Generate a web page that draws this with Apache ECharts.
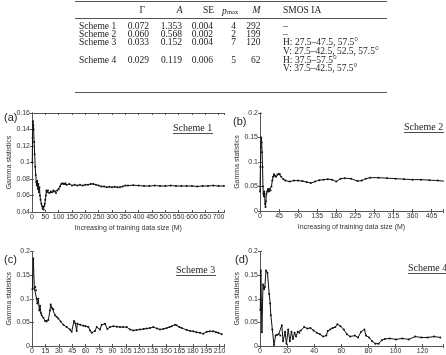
<!DOCTYPE html>
<html><head><meta charset="utf-8">
<script src="https://cdn.jsdelivr.net/npm/echarts@6/dist/echarts.min.js"></script>
<style>html,body{margin:0;padding:0;background:#fff}#c{width:446px;height:355px}</style>
</head><body><div id="c"></div>
<script>
// ---- table data ----
const tableSchemes = ['Scheme 1', 'Scheme 2', 'Scheme 3', 'Scheme 4'];
const tableGamma = ['0.072', '0.060', '0.033', '0.029'];
const tableA = ['1.353', '0.568', '0.152', '0.119'];
const tableSE = ['0.004', '0.002', '0.004', '0.006'];
const tablePmax = ['4', '2', '7', '5'];
const tableM = ['292', '199', '120', '62'];
const tableIA = [['–'], ['–'], ['H: 27.5–47.5, 57.5°', 'V: 27.5–42.5, 52.5, 57.5°'], ['H: 37.5–57.5°', 'V: 37.5–42.5, 57.5°']];

// ---- panel data ----
const panelLetters = ['(a)', '(b)', '(c)', '(d)'];
const panelSchemes = ['Scheme 1', 'Scheme 2', 'Scheme 3', 'Scheme 4'];
const yName = 'Gamma statistics';
const xName = 'Increasing of training data size (M)';

const aX = [1, 2, 3, 4, 5, 6, 8, 10, 12, 14, 16, 18, 20, 22, 24, 26, 28, 30, 32, 35, 38, 40, 42, 44, 46, 48, 50, 52, 54, 56, 60, 65, 70, 75, 80, 85, 90, 95, 100, 105, 110, 115, 120, 125, 130, 140, 150, 160, 170, 180, 190, 200, 210, 220, 230, 240, 250, 260, 270, 280, 290, 300, 310, 320, 330, 340, 350, 360, 380, 400, 420, 440, 460, 480, 500, 520, 540, 560, 580, 600, 620, 640, 660, 680, 700, 720];
const aY = [0.10, 0.13, 0.148, 0.15, 0.145, 0.14, 0.125, 0.11, 0.095, 0.085, 0.076, 0.072, 0.078, 0.068, 0.074, 0.064, 0.07, 0.06, 0.055, 0.05, 0.047, 0.044, 0.046, 0.043, 0.047, 0.05, 0.055, 0.06, 0.066, 0.064, 0.066, 0.063, 0.065, 0.064, 0.066, 0.065, 0.063, 0.066, 0.068, 0.071, 0.074, 0.075, 0.074, 0.075, 0.073, 0.074, 0.072, 0.073, 0.072, 0.073, 0.072, 0.073, 0.073, 0.074, 0.074, 0.073, 0.072, 0.071, 0.071, 0.070, 0.0705, 0.070, 0.0705, 0.070, 0.070, 0.071, 0.072, 0.072, 0.0725, 0.072, 0.0715, 0.0715, 0.072, 0.0715, 0.0715, 0.072, 0.0715, 0.0715, 0.0715, 0.0715, 0.071, 0.0715, 0.0715, 0.072, 0.0715, 0.0715];

const bX = [0, 1, 2, 3, 4, 5, 6, 7, 8, 9, 10, 11, 12, 13, 14, 15, 17, 19, 21, 23, 25, 27, 29, 31, 33, 35, 38, 41, 44, 47, 50, 55, 60, 70, 80, 90, 100, 110, 120, 130, 140, 150, 160, 170, 180, 190, 200, 215, 230, 240, 250, 260, 280, 300, 320, 340, 360, 380, 400, 420, 435];
const bY = [0.04, 0.09, 0.13, 0.15, 0.14, 0.12, 0.09, 0.05, 0.035, 0.03, 0.04, 0.03, 0.015, 0.008, 0.02, 0.035, 0.04, 0.045, 0.04, 0.045, 0.042, 0.05, 0.062, 0.07, 0.075, 0.072, 0.07, 0.074, 0.076, 0.075, 0.07, 0.065, 0.062, 0.06, 0.062, 0.062, 0.061, 0.059, 0.057, 0.06, 0.063, 0.064, 0.065, 0.064, 0.06, 0.066, 0.067, 0.066, 0.061, 0.062, 0.066, 0.068, 0.068, 0.067, 0.066, 0.065, 0.064, 0.064, 0.063, 0.062, 0.061];

const cX = [0.5, 1.5, 2.6, 3.7, 4.5, 5.2, 6, 7.1, 8.2, 9, 10, 10.8, 12.7, 14.6, 16.4, 18.3, 20.1, 20.9, 22.5, 23.9, 25.8, 27.5, 29.5, 32, 35.1, 38.8, 42.5, 44.4, 47, 48.5, 50, 50.8, 54, 57.5, 60, 63.1, 65, 66.8, 70.5, 72.4, 76.1, 78, 81.7, 84.4, 87.3, 91, 95, 98.5, 102, 106, 109.7, 113.4, 117, 120.9, 125, 128.4, 132, 135.8, 140, 143.3, 147, 150.8, 154, 156.4, 160.1, 162, 165, 167.6, 173.2, 177, 180.6, 184, 188.1, 191.8, 195.6, 199, 203, 206, 208.6, 212.4];
const cY = [0.12, 0.185, 0.122, 0.125, 0.118, 0.10, 0.09, 0.10, 0.075, 0.085, 0.07, 0.065, 0.06, 0.053, 0.052, 0.055, 0.075, 0.088, 0.08, 0.078, 0.065, 0.062, 0.058, 0.052, 0.045, 0.04, 0.035, 0.03, 0.053, 0.048, 0.032, 0.047, 0.045, 0.043, 0.042, 0.04, 0.033, 0.028, 0.032, 0.04, 0.035, 0.045, 0.047, 0.036, 0.04, 0.042, 0.041, 0.04, 0.04, 0.04, 0.035, 0.033, 0.034, 0.035, 0.036, 0.037, 0.038, 0.04, 0.037, 0.035, 0.036, 0.038, 0.04, 0.042, 0.045, 0.044, 0.04, 0.038, 0.034, 0.032, 0.031, 0.029, 0.028, 0.026, 0.03, 0.031, 0.031, 0.029, 0.028, 0.025];

const dX = [0.2, 0.6, 1.4, 2.2, 3, 3.6, 4.4, 5.5, 6.8, 7.5, 8, 9.1, 10.3, 11.5, 12.6, 13.8, 15, 16.1, 17, 18.5, 19.5, 20.8, 22, 23.2, 24.3, 25.5, 26.6, 27.8, 29, 30.2, 32.5, 34.9, 37.2, 39.5, 41.9, 44.2, 46.5, 48.9, 50, 51.8, 53.6, 55.5, 57.1, 59.4, 61.8, 64.1, 66.4, 70, 72.3, 74.6, 77, 78.2, 80.5, 82.8, 85.1, 87.5, 89.8, 92.1, 95.6, 100.4, 105, 109.7, 114.4, 119, 123.7, 128.4, 133];
const dY = [0.076, 0.16, 0.029, 0.13, 0.12, 0.125, 0.16, 0.155, 0.11, 0.09, 0.065, 0.035, 0.002, 0.022, 0.024, 0.025, 0.022, 0.044, 0.01, 0.03, 0.005, 0.035, 0.01, 0.03, 0.015, 0.028, 0.02, 0.03, 0.028, 0.033, 0.04, 0.037, 0.038, 0.033, 0.028, 0.025, 0.02, 0.022, 0.032, 0.035, 0.038, 0.04, 0.046, 0.042, 0.035, 0.025, 0.02, 0.022, 0.018, 0.03, 0.035, 0.022, 0.018, 0.01, 0.005, 0.005, 0.012, 0.015, 0.016, 0.014, 0.016, 0.014, 0.02, 0.018, 0.018, 0.02, 0.018];

// axis ranges [xmax, xInterval, ymin, ymax, yInterval]
const axisRanges = [[722, 50, 0.04, 0.16, 0.02], [432, 45, 0, 0.2, 0.05], [215.5, 15, 0, 0.2, 0.05], [135, 20, 0, 0.2, 0.05]];
const seriesX = [aX, bX, cX, dX];
const seriesY = [aY, bY, cY, dY];

// ---- layout ----
const grids = [
  {left: 32, top: 113, width: 192.5, height: 99},
  {left: 260, top: 113, width: 192, height: 98},
  {left: 32, top: 251.5, width: 192.5, height: 99.5},
  {left: 260, top: 251.5, width: 192, height: 99.5}
];
const sans = 'Liberation Sans';
const serif = 'Liberation Serif';
const axisColor = '#555';
const txtColor = '#333';

const xAxes = [], yAxes = [], series = [];
grids.forEach((g, i) => {
  const [xmax, xint, ymin, ymax, yint] = axisRanges[i];
  const common = {gridIndex: i, type: 'value', splitLine: {show: false},
    axisLine: {show: true, lineStyle: {color: axisColor, width: 1}},
    axisTick: {show: true, inside: true, length: 2, lineStyle: {color: axisColor}}};
  xAxes.push(Object.assign({}, common, {position: 'bottom', min: 0, max: xmax, interval: xint,
    axisLabel: {fontSize: 7, fontFamily: sans, color: txtColor, margin: 2,
      formatter: v => (Math.abs(v / xint - Math.round(v / xint)) < 1e-6 ? String(v) : '')},
    name: i < 2 ? xName : '', nameLocation: 'middle', nameGap: 13,
    nameTextStyle: {fontSize: 7, fontFamily: sans, color: txtColor}}));
  xAxes.push(Object.assign({}, common, {position: 'top', min: 0, max: xmax, interval: xint,
    axisLabel: {show: false}}));
  yAxes.push(Object.assign({}, common, {position: 'left', min: ymin, max: ymax, interval: yint,
    axisLabel: {fontSize: 7, fontFamily: sans, color: txtColor, margin: 2},
    name: yName, nameLocation: 'middle', nameGap: 16, nameRotate: 90,
    nameTextStyle: {fontSize: 7, fontFamily: sans, color: txtColor}}));
  yAxes.push(Object.assign({}, common, {position: 'right', min: ymin, max: ymax, interval: yint,
    axisLabel: {show: false}}));
  series.push({type: 'line', xAxisIndex: i * 2, yAxisIndex: i * 2,
    data: seriesX[i].map((x, k) => [x, seriesY[i][k]]),
    showSymbol: true, showAllSymbol: true, symbol: 'circle', symbolSize: 2,
    itemStyle: {color: '#111'}, lineStyle: {color: '#111', width: 1}, animation: false, silent: true});
});

// ---- graphics: table, panel letters, scheme labels ----
const graphics = [];
const tFont = "9.5px '" + serif + "'";
const tFontI = "italic 9.5px '" + serif + "'";
function txt(text, x, y, align, font) {
  graphics.push({type: 'text', x: x, y: y, silent: true,
    style: {text: text, font: font || tFont, fill: '#222', align: align || 'left', verticalAlign: 'middle'}});
}
function hline(x1, x2, y, w) {
  graphics.push({type: 'line', silent: true, shape: {x1: x1, y1: y, x2: x2, y2: y},
    style: {stroke: '#555', lineWidth: w || 1}});
}
hline(75, 387, 1.5);
hline(75, 387, 18.5);
hline(75, 387, 92.5);
// header
const hy = 10.5;
txt('Γ', 145, hy, 'right');
txt('A', 182.5, hy, 'right', tFontI);
txt('SE', 214, hy, 'right');
txt('p', 222, hy + 0.5, 'left', tFontI);
txt('max', 227, hy + 1.5, 'left', "6.5px '" + serif + "'");
txt('M', 260.5, hy, 'right', tFontI);
txt('SMOS IA', 283, hy, 'left');
const rowY = [26, 34.4, 42.8, 60];
const rowY2 = [0, 0, 51.2, 68.5];
tableSchemes.forEach((s, r) => {
  const y = rowY[r];
  txt(s, 79, y, 'left');
  txt(tableGamma[r], 149, y, 'right');
  txt(tableA[r], 182, y, 'right');
  txt(tableSE[r], 213, y, 'right');
  txt(tablePmax[r], 236, y, 'right');
  txt(tableM[r], 260.5, y, 'right');
  txt(tableIA[r][0], 283, y, 'left');
  if (tableIA[r][1]) txt(tableIA[r][1], 283, rowY2[r], 'left');
});
// panel letters
const letterPos = [[4, 118], [233, 122], [4, 260], [235, 260]];
panelLetters.forEach((l, i) => {
  graphics.push({type: 'text', x: letterPos[i][0], y: letterPos[i][1], silent: true,
    style: {text: l, font: "11px '" + sans + "'", fill: '#222', align: 'left', verticalAlign: 'middle'}});
});
// scheme labels (underlined)
const schemePos = [[173, 128], [404, 127], [176, 270], [408, 268]];
const sFont = "10px '" + serif + "'";
panelSchemes.forEach((s, i) => {
  const [x, y] = schemePos[i];
  graphics.push({type: 'text', x: x, y: y, silent: true,
    style: {text: s, font: sFont, fill: '#222', align: 'left', verticalAlign: 'middle'}});
  graphics.push({type: 'line', silent: true, shape: {x1: x, y1: y + 5.5, x2: x + 40, y2: y + 5.5},
    style: {stroke: '#222', lineWidth: 0.8}});
});

const chart = echarts.init(document.getElementById('c'), null, {renderer: 'canvas'});
chart.setOption({
  animation: false,
  backgroundColor: '#fff',
  grid: grids.map(g => Object.assign({containLabel: false, show: false}, g)),
  xAxis: xAxes,
  yAxis: yAxes,
  series: series,
  graphic: graphics
});
</script></body></html>
